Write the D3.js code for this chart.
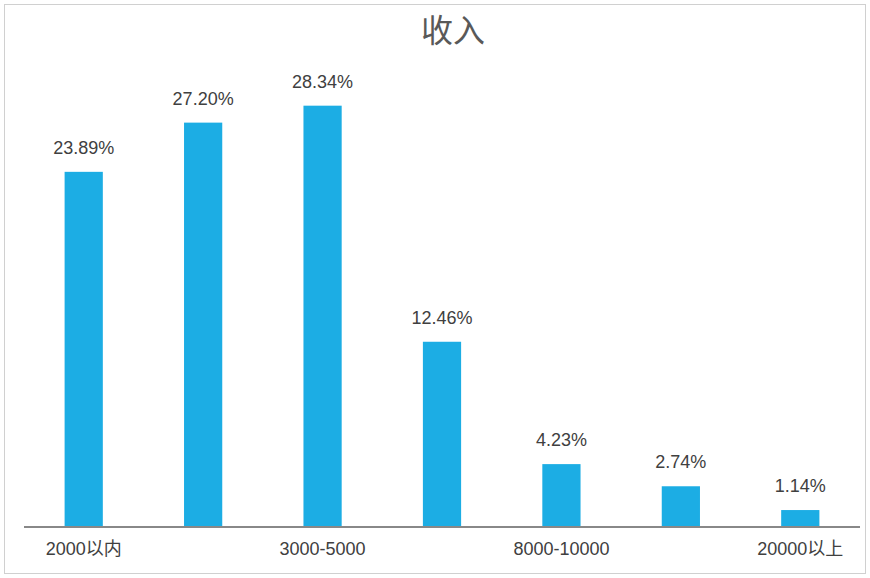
<!DOCTYPE html>
<html><head><meta charset="utf-8">
<script src="https://cdn.jsdelivr.net/npm/d3@7/dist/d3.min.js"></script>
<style>body{margin:0;background:#fff}</style>
</head><body>
<svg id="chart" width="870" height="578"></svg>
<script>
// 数据
const categories = ["2000以内", "2000-3000", "3000-5000", "5000-8000", "8000-10000", "10000-20000", "20000以上"];
const values = [23.89, 27.20, 28.34, 12.46, 4.23, 2.74, 1.14];
const shownLabels = ["2000以内", "3000-5000", "8000-10000", "20000以上"];

const svg = d3.select("#chart");
const font = "Liberation Sans, Noto Sans CJK SC, sans-serif";

svg.append("rect")
    .attr("x", 4.5).attr("y", 4.5).attr("width", 861).attr("height", 569)
    .attr("fill", "none").attr("stroke", "#d0d0d0");

svg.append("text")
    .attr("x", 453).attr("y", 42)
    .attr("text-anchor", "middle")
    .style("font-family", font).style("font-size", "32px")
    .attr("fill", "#595959")
    .text("收入");

const x = d3.scaleBand().domain(categories).range([24, 860]).paddingInner(0.68).paddingOuter(0.34);
const y = d3.scaleLinear().domain([0, 30]).range([527, 81]);

svg.selectAll(".bar").data(values).enter().append("rect")
    .attr("x", (d, i) => x(categories[i]))
    .attr("y", d => y(d))
    .attr("width", x.bandwidth())
    .attr("height", d => y(0) - y(d))
    .attr("fill", "#1CADE4");

svg.selectAll(".val").data(values).enter().append("text")
    .attr("x", (d, i) => x(categories[i]) + x.bandwidth() / 2)
    .attr("y", d => y(d) - 18)
    .attr("text-anchor", "middle")
    .style("font-family", font).style("font-size", "18px")
    .attr("fill", "#404040")
    .text(d => d.toFixed(2) + "%");

svg.append("g")
    .attr("transform", "translate(0,527)")
    .call(d3.axisBottom(x).tickSize(0).tickFormat(d => shownLabels.includes(d) ? d : ""))
    .call(g => g.select(".domain").attr("stroke", "#888").attr("stroke-width", 2).attr("d", "M24,0H860"))
    .call(g => g.selectAll("text").attr("dy", "1.4em").style("font-family", font).style("font-size", "18px").attr("fill", "#404040"));
</script>
</body></html>
